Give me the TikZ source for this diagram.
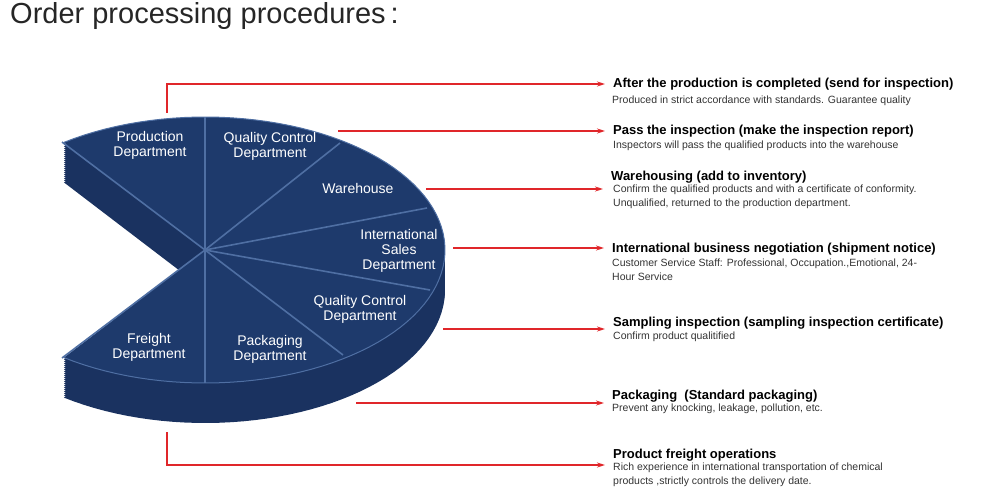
\documentclass[tikz,border=0pt]{standalone}
\usepackage{fontspec}
\setmainfont{Liberation Sans}
\usetikzlibrary{arrows.meta}
\definecolor{navy}{HTML}{1E3A6C}
\definecolor{navyside}{HTML}{1A3260}
\definecolor{divline}{HTML}{4F6FA3}
\definecolor{redl}{HTML}{E0262A}
\tikzset{
  pielabel/.style={text=white,font=\fontsize{14}{15}\selectfont,align=center},
  ttl/.style={anchor=west,inner sep=0pt,font=\fontsize{13}{15}\selectfont\bfseries,text=black},
  sub/.style={anchor=north west,inner sep=0pt,font=\fontsize{10.5}{14}\selectfont,text=black!80,align=left},
  arr/.style={draw=redl,line width=1.4pt,-{Stealth[length=8pt,width=5pt]},shorten >=8pt},
  divs/.style={draw=divline,line width=1.6pt}
}
\begin{document}
\begin{tikzpicture}[x=1pt,y=-1pt]
\useasboundingbox (0,0) rectangle (1000,500);
\node[anchor=north west,inner sep=0pt,font=\fontsize{29}{30}\selectfont,text=black!85] (title) at (10,2) {Order processing procedures\,:};
% extruded pie
\foreach \d in {40,38,...,2}{
  \fill[navyside] (205,250+\d) -- plot[domain=-126:126,samples=90] ({205+240*cos(\x)},{250+\d-133*sin(\x)}) -- cycle;
}
\fill[navy] (205,250) -- plot[domain=-126:126,samples=90] ({205+240*cos(\x)},{250-133*sin(\x)}) -- cycle;
\draw[divline,line width=1pt] plot[domain=-126:126,samples=90] ({205+240*cos(\x)},{250-133*sin(\x)});
\coordinate (c) at (205,250);
\foreach \p in {(205,117),(340,143),(427,208),(430,290),(343,355),(205,383),(62,358),(62,142)}{
  \draw[divs] (c) -- \p;
}
% labels
\node[pielabel] (l1) at (150,145) {Production\\Department};
\node[pielabel] (l2) at (270,146) {Quality Control\\Department};
\node[pielabel] (l3) at (358,188) {Warehouse};
\node[pielabel] (l4) at (399,251) {International\\Sales\\Department};
\node[pielabel] (l5) at (360,309) {Quality Control\\Department};
\node[pielabel] (l6) at (270,349) {Packaging\\Department};
\node[pielabel] (l7) at (149,347) {Freight\\Department};
% texts
\node[ttl] (t1) at (613,84) {After the production is completed (send for inspection)};
\node[sub] (d1) at (612,96) {Produced in strict accordance with standards. Guarantee quality};
\node[ttl] (t2) at (613,131) {Pass the inspection (make the inspection report)};
\node[sub] (d2) at (613,141) {Inspectors will pass the qualified products into the warehouse};
\node[ttl] (t3) at (611,177) {Warehousing (add to inventory)};
\node[sub] (d3) at (613,185) {Confirm the qualified products and with a certificate of conformity.\\Unqualified, returned to the production department.};
\node[ttl] (t4) at (612,249) {International business negotiation (shipment notice)};
\node[sub] (d4) at (612,259) {Customer Service Staff: Professional, Occupation.,Emotional, 24-\\Hour Service};
\node[ttl] (t5) at (613,323) {Sampling inspection (sampling inspection certificate)};
\node[sub] (d5) at (613,332) {Confirm product qualitified};
\node[ttl] (t6) at (612,396) {Packaging\ \ (Standard packaging)};
\node[sub] (d6) at (612,404) {Prevent any knocking, leakage, pollution, etc.};
\node[ttl] (t7) at (613,455) {Product freight operations};
\node[sub] (d7) at (613,463) {Rich experience in international transportation of chemical\\products ,strictly controls the delivery date.};
% connectors
\coordinate (s1) at (167,113);
\coordinate (s2) at (338,131);
\coordinate (s3) at (426,189);
\coordinate (s4) at (453,248);
\coordinate (s5) at (443,329);
\coordinate (s6) at (356,403);
\coordinate (s7) at (167,432);
\coordinate (k1) at (167,84);
\coordinate (k7) at (167,465);
\draw[arr] (s1) -- (k1) -- (k1 -| t1.west);
\draw[arr] (s2) -- (s2 -| t2.west);
\draw[arr] (s3) -- (s3 -| t3.west);
\draw[arr] (s4) -- (s4 -| t4.west);
\draw[arr] (s5) -- (s5 -| t5.west);
\draw[arr] (s6) -- (s6 -| t6.west);
\draw[arr] (s7) -- (k7) -- (k7 -| t7.west);
\end{tikzpicture}
\end{document}
